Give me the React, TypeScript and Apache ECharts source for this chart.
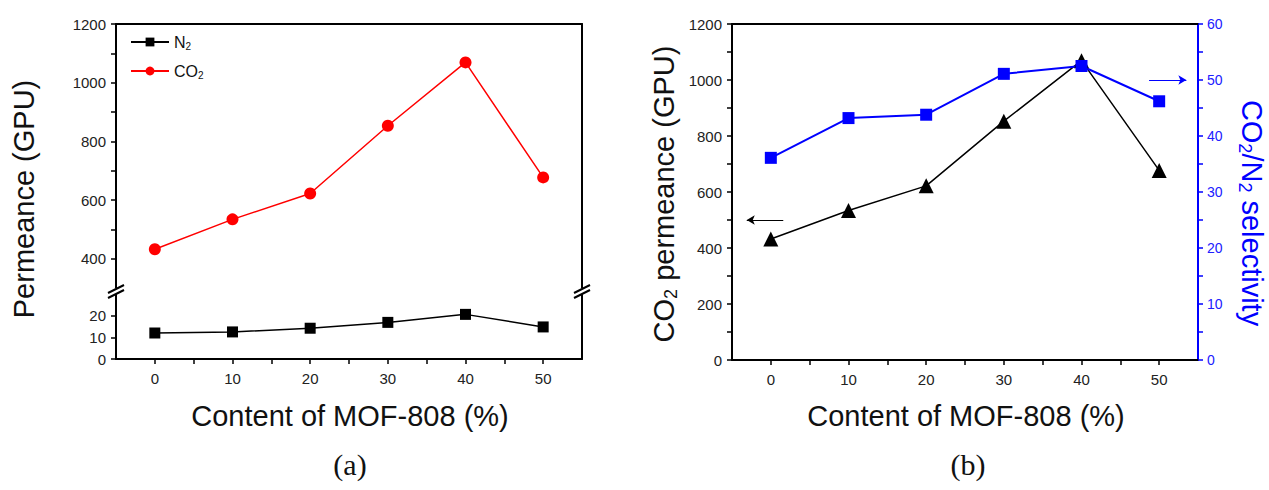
import React, { useEffect, useRef } from "react";
import * as echarts from "echarts";

// ---------- data ----------
const mofContent = [0, 10, 20, 30, 40, 50];
const n2Permeance = [12.0, 12.5, 14.2, 16.9, 20.6, 14.8];
const co2Permeance = [432, 534, 622, 853, 1069, 677];
const co2Selectivity = [36.1, 43.2, 43.8, 51.1, 52.5, 46.2];

// tick labels / tick marks
const xLabels = [0, 10, 20, 30, 40, 50];
const xTicks = [0, 5, 10, 15, 20, 25, 30, 35, 40, 45, 50];
const upperLeftLabels = [400, 600, 800, 1000, 1200];
const upperLeftTicks = [400, 500, 600, 700, 800, 900, 1000, 1100, 1200];
const lowerLeftLabels = [0, 10, 20];
const rightPermLabels = [0, 200, 400, 600, 800, 1000, 1200];
const rightPermTicks = [0, 100, 200, 300, 400, 500, 600, 700, 800, 900, 1000, 1100, 1200];
const selLabels = [0, 10, 20, 30, 40, 50, 60];
const selTicks = [0, 5, 10, 15, 20, 25, 30, 35, 40, 45, 50, 55, 60];

// arrow annotations (data coordinates)
const permArrow = { from: [1.6, 500], to: [-3.1, 500] };
const selArrow = { from: [48.7, 50], to: [53.5, 50] };

const SANS = "'Liberation Sans', Arial, Helvetica, sans-serif";
const SERIF = "'Liberation Serif', 'DejaVu Serif', serif";

const pairs = (ys: number[]) => mofContent.map((x, i) => [x, ys[i]]);

export default function App() {
  const ref = useRef<HTMLDivElement>(null);

  useEffect(() => {
    if (!ref.current) return;
    const chart = echarts.init(ref.current, null, { renderer: "svg" });

    const axisLine = (color = "#000") => ({ show: true, onZero: false, lineStyle: { color, width: 2 } });
    const tick = (values: number[], color = "#000") => ({
      show: true,
      length: 5,
      inside: false,
      customValues: values,
      lineStyle: { color, width: 1.5 },
    });
    const label = (values: number[], color = "#222", margin = 10, fontSize = 15) => ({
      show: true,
      customValues: values,
      color,
      fontSize,
      fontFamily: SANS,
      margin,
      formatter: (v: number) => String(v),
    });
    const lineOnlyX = (gridIndex: number, position: string) => ({
      type: "value",
      gridIndex,
      position,
      min: -5,
      max: 55,
      axisLine: axisLine(),
      axisTick: { show: false },
      axisLabel: { show: false },
      splitLine: { show: false },
    });
    const lineOnlyY = (gridIndex: number, min: number, max: number) => ({
      type: "value",
      gridIndex,
      position: "right",
      min,
      max,
      axisLine: axisLine(),
      axisTick: { show: false },
      axisLabel: { show: false },
      splitLine: { show: false },
    });

    // rich text styles: echarts text uses "color", graphic (zrender) text uses "fill"
    const subRich = (colorKey: string, color: string, size: number, subSize: number, lh: number) => ({
      a: { fontSize: size, fontFamily: SANS, [colorKey]: color, lineHeight: lh },
      s: {
        fontSize: subSize,
        fontFamily: SANS,
        [colorKey]: color,
        lineHeight: Math.round(subSize * 0.75),
        verticalAlign: "bottom",
      },
    });

    const option: any = {
      animation: false,
      backgroundColor: "#fff",
      grid: [
        { left: 116, top: 24, width: 466, height: 264, containLabel: false, outerBoundsMode: "none" },
        { left: 116, top: 294, width: 466, height: 65, containLabel: false, outerBoundsMode: "none" },
        { left: 732, top: 24, width: 466, height: 336, containLabel: false, outerBoundsMode: "none" },
      ],
      legend: {
        data: ["N2", "CO2"],
        orient: "vertical",
        left: 130,
        top: 34,
        padding: 0,
        itemWidth: 38,
        itemHeight: 11,
        itemGap: 12,
        formatter: (name: string) => (name === "N2" ? "{a|N}{s|2}" : "{a|CO}{s|2}"),
        textStyle: { rich: subRich("color", "#111", 16, 10, 18) },
      },
      xAxis: [
        lineOnlyX(0, "top"),
        {
          type: "value",
          gridIndex: 1,
          position: "bottom",
          min: -5,
          max: 55,
          axisLine: axisLine(),
          axisTick: tick(xTicks),
          axisLabel: label(xLabels, "#222", 12),
          splitLine: { show: false },
        },
        {
          type: "value",
          gridIndex: 2,
          position: "bottom",
          min: -5,
          max: 55,
          axisLine: axisLine(),
          axisTick: tick(xTicks),
          axisLabel: label(xLabels, "#222", 12),
          splitLine: { show: false },
        },
        lineOnlyX(2, "top"),
      ],
      yAxis: [
        {
          type: "value",
          gridIndex: 0,
          position: "left",
          min: 300,
          max: 1200,
          axisLine: axisLine(),
          axisTick: tick(upperLeftTicks),
          axisLabel: label(upperLeftLabels),
          splitLine: { show: false },
        },
        lineOnlyY(0, 300, 1200),
        {
          type: "value",
          gridIndex: 1,
          position: "left",
          min: 0,
          max: 30,
          axisLine: axisLine(),
          axisTick: tick(lowerLeftLabels),
          axisLabel: label(lowerLeftLabels),
          splitLine: { show: false },
        },
        lineOnlyY(1, 0, 30),
        {
          type: "value",
          gridIndex: 2,
          position: "left",
          min: 0,
          max: 1200,
          axisLine: axisLine(),
          axisTick: tick(rightPermTicks),
          axisLabel: label(rightPermLabels),
          splitLine: { show: false },
        },
        {
          type: "value",
          gridIndex: 2,
          position: "right",
          min: 0,
          max: 60,
          axisLine: axisLine("#0000ff"),
          axisTick: tick(selTicks, "#0000ff"),
          axisLabel: label(selLabels, "#2020ff", 9, 14),
          splitLine: { show: false },
        },
      ],
      series: [
        {
          name: "N2",
          type: "line",
          xAxisIndex: 1,
          yAxisIndex: 2,
          data: pairs(n2Permeance),
          symbol: "rect",
          symbolSize: 11,
          itemStyle: { color: "#000" },
          lineStyle: { color: "#000", width: 1.5 },
        },
        {
          name: "CO2",
          type: "line",
          xAxisIndex: 0,
          yAxisIndex: 0,
          data: pairs(co2Permeance),
          symbol: "circle",
          symbolSize: 12,
          itemStyle: { color: "#ff0000" },
          lineStyle: { color: "#ff0000", width: 1.5 },
        },
        {
          name: "CO2 permeance",
          type: "line",
          xAxisIndex: 2,
          yAxisIndex: 4,
          data: pairs(co2Permeance),
          symbol: "triangle",
          symbolSize: 15,
          itemStyle: { color: "#000" },
          lineStyle: { color: "#000", width: 1.5 },
          markLine: {
            silent: true,
            symbol: ["none", "arrow"],
            symbolSize: [7, 8],
            label: { show: false },
            lineStyle: { color: "#000", width: 1.2, type: "solid" },
            data: [[{ coord: permArrow.from }, { coord: permArrow.to }]],
          },
        },
        {
          name: "CO2/N2 selectivity",
          type: "line",
          xAxisIndex: 2,
          yAxisIndex: 5,
          data: pairs(co2Selectivity),
          symbol: "rect",
          symbolSize: 12,
          itemStyle: { color: "#0000ff" },
          lineStyle: { color: "#0000ff", width: 2 },
          markLine: {
            silent: true,
            symbol: ["none", "arrow"],
            symbolSize: [7, 8],
            label: { show: false },
            lineStyle: { color: "#0000ff", width: 1.2, type: "solid" },
            data: [[{ coord: selArrow.from }, { coord: selArrow.to }]],
          },
        },
      ],
      graphic: [
        // axis break marks
        { type: "rect", shape: { x: 106, y: 288, width: 20, height: 6 }, style: { fill: "#fff" }, z: 50 },
        { type: "rect", shape: { x: 572, y: 288, width: 20, height: 6 }, style: { fill: "#fff" }, z: 50 },
        { type: "line", shape: { x1: 108, y1: 293, x2: 124, y2: 285 }, style: { stroke: "#000", lineWidth: 2 }, z: 51 },
        { type: "line", shape: { x1: 108, y1: 298, x2: 124, y2: 290 }, style: { stroke: "#000", lineWidth: 2 }, z: 51 },
        { type: "line", shape: { x1: 574, y1: 293, x2: 590, y2: 285 }, style: { stroke: "#000", lineWidth: 2 }, z: 51 },
        { type: "line", shape: { x1: 574, y1: 298, x2: 590, y2: 290 }, style: { stroke: "#000", lineWidth: 2 }, z: 51 },
        // titles
        {
          type: "text",
          x: 24,
          y: 199,
          rotation: Math.PI / 2,
          style: { text: "Permeance (GPU)", fontSize: 29, fontFamily: SANS, fill: "#111", align: "center", verticalAlign: "middle" },
        },
        {
          type: "text",
          x: 350,
          y: 416,
          style: { text: "Content of MOF-808 (%)", fontSize: 29, fontFamily: SANS, fill: "#111", align: "center", verticalAlign: "middle" },
        },
        {
          type: "text",
          x: 966,
          y: 416,
          style: { text: "Content of MOF-808 (%)", fontSize: 29, fontFamily: SANS, fill: "#111", align: "center", verticalAlign: "middle" },
        },
        {
          type: "text",
          x: 664,
          y: 194,
          rotation: Math.PI / 2,
          style: {
            text: "{a|CO}{s|2}{a| permeance (GPU)}",
            rich: subRich("fill", "#111", 29, 18, 32),
            align: "center",
            verticalAlign: "middle",
          },
        },
        {
          type: "text",
          x: 1252,
          y: 213,
          rotation: -Math.PI / 2,
          style: {
            text: "{a|CO}{s|2}{a|/N}{s|2}{a| selectivity}",
            rich: subRich("fill", "#0000ff", 29, 18, 32),
            align: "center",
            verticalAlign: "middle",
          },
        },
        {
          type: "text",
          x: 350,
          y: 464,
          style: { text: "(a)", fontSize: 30, fontFamily: SERIF, fill: "#111", align: "center", verticalAlign: "middle" },
        },
        {
          type: "text",
          x: 968,
          y: 464,
          style: { text: "(b)", fontSize: 30, fontFamily: SERIF, fill: "#111", align: "center", verticalAlign: "middle" },
        },
      ],
    };

    chart.setOption(option);
    return () => chart.dispose();
  }, []);

  return (
    <div
      ref={ref}
      style={{ position: "absolute", left: 0, top: 0, width: 1269, height: 490, background: "#fff" }}
    />
  );
}
